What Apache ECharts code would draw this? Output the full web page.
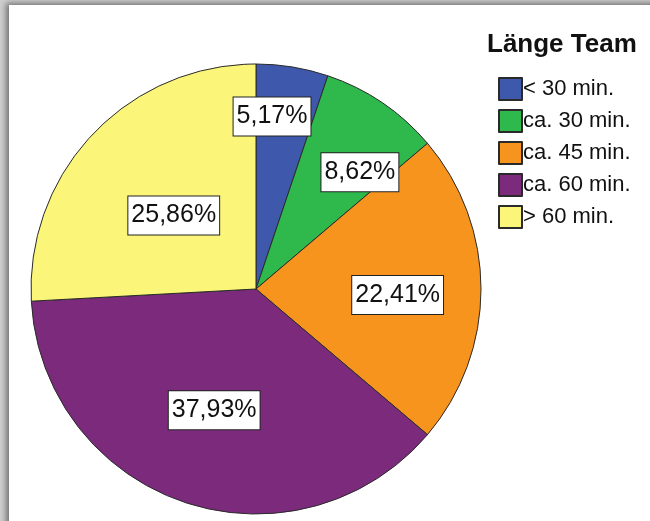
<!DOCTYPE html>
<html>
<head>
<meta charset="utf-8">
<script src="https://cdn.jsdelivr.net/npm/echarts@6/dist/echarts.min.js"></script>
<style>
  html, body { margin: 0; padding: 0; width: 650px; height: 521px; overflow: hidden; background: #cfcfcf; }
  #frame { position: absolute; left: 9px; top: 5px; width: 660px; height: 540px; background: #fff;
           box-shadow: -3px -2px 6px rgba(0,0,0,0.45); }
  #chart { position: absolute; left: 0; top: 0; width: 650px; height: 521px; }
</style>
</head>
<body>
<div id="frame"></div>
<div id="chart"></div>
<script>
// ---- data ----
const legendTitle = 'Länge Team';
const categories = ['< 30 min.', 'ca. 30 min.', 'ca. 45 min.', 'ca. 60 min.', '> 60 min.'];
const counts = [3, 5, 13, 22, 15];
const colors = ['#3e58ac', '#2fb84c', '#f7941e', '#7b2a7c', '#fbf57a'];

// ---- label placement (fraction of radius, angular shift in degrees) ----
const labelRadiusFrac = [0.77, 0.695, 0.63, 0.57, 0.49];
const labelAngleShift = [-4, 7.5, 2.4, 0.4, -1.7];

const total = counts.reduce((a, b) => a + b, 0);
const cx = 256, cy = 289, R = 225;

const chart = echarts.init(document.getElementById('chart'), null, { renderer: 'canvas' });

function fmtPct(v) {
  return (v / total * 100).toFixed(2).replace('.', ',') + '%';
}

const option = {
  backgroundColor: 'transparent',
  animation: false,
  title: {
    text: legendTitle,
    left: 482,
    top: 27,
    textStyle: { fontFamily: 'Liberation Sans, Arial, sans-serif', fontSize: 26, fontWeight: 'bold', color: '#111' }
  },
  legend: {
    orient: 'vertical',
    left: 498,
    top: 77,
    padding: 0,
    itemWidth: 23,
    itemHeight: 22,
    itemGap: 8,
    icon: 'rect',
    data: categories,
    textStyle: { fontFamily: 'Liberation Sans, Arial, sans-serif', fontSize: 22, color: '#111', padding: [2, 0, 0, -4] }
  },
  series: [{
    type: 'pie',
    center: [cx, cy],
    radius: R,
    startAngle: 90,
    clockwise: true,
    avoidLabelOverlap: false,
    itemStyle: { borderColor: '#2a2a2a', borderWidth: 1 },
    emphasis: { disabled: true },
    label: {
      show: true,
      position: 'inside',
      formatter: p => fmtPct(p.value),
      fontFamily: 'Liberation Sans, Arial, sans-serif',
      fontSize: 25,
      lineHeight: 30,
      color: '#111',
      backgroundColor: '#fff',
      borderColor: '#222',
      borderWidth: 1,
      padding: [5, 3, 3, 3]
    },
    labelLayout: function (params) {
      const i = params.dataIndex;
      let cum = 0;
      for (let k = 0; k < i; k++) cum += counts[k];
      const mid = (cum + counts[i] / 2) / total * 360 + labelAngleShift[i];
      const th = mid * Math.PI / 180;
      const r = labelRadiusFrac[i] * R;
      return {
        x: cx + r * Math.sin(th),
        y: cy - r * Math.cos(th),
        align: 'center',
        verticalAlign: 'middle'
      };
    },
    data: categories.map((c, i) => ({ name: c, value: counts[i], itemStyle: { color: colors[i] } }))
  }]
};
chart.setOption(option);
</script>
</body>
</html>
